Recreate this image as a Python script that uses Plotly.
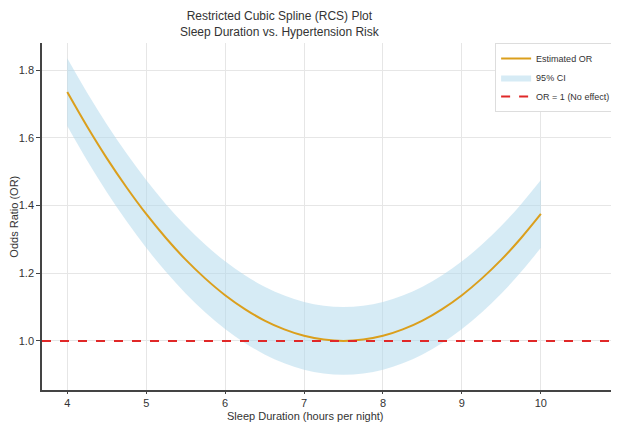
import plotly.graph_objects as go

sleep_hours = [4.0, 4.25, 4.5, 4.75, 5.0, 5.25, 5.5, 5.75, 6.0, 6.25, 6.5, 6.75, 7.0,
               7.25, 7.5, 7.75, 8.0, 8.25, 8.5, 8.75, 9.0, 9.25, 9.5, 9.75, 10.0]
estimated_or = [1.735, 1.634, 1.540, 1.454, 1.375, 1.304, 1.240, 1.184, 1.135, 1.094,
                1.060, 1.034, 1.015, 1.004, 1.000, 1.004, 1.015, 1.034, 1.060, 1.094,
                1.135, 1.184, 1.240, 1.304, 1.375]
ci_upper = [1.835, 1.734, 1.640, 1.554, 1.475, 1.404, 1.340, 1.284, 1.235, 1.194,
            1.160, 1.134, 1.115, 1.104, 1.100, 1.104, 1.115, 1.134, 1.160, 1.194,
            1.235, 1.284, 1.340, 1.404, 1.475]
ci_lower = [1.635, 1.534, 1.440, 1.354, 1.275, 1.204, 1.140, 1.084, 1.035, 0.994,
            0.960, 0.934, 0.915, 0.904, 0.900, 0.904, 0.915, 0.934, 0.960, 0.994,
            1.035, 1.084, 1.140, 1.204, 1.275]
x_ticks = [4, 5, 6, 7, 8, 9, 10]
y_ticks = [1.0, 1.2, 1.4, 1.6, 1.8]
reference_or = 1.0

FONT = "Liberation Sans"
X_RANGE = [3.68, 10.99]
fig = go.Figure()
fig.add_trace(go.Scatter(x=sleep_hours, y=ci_upper, mode="lines",
                         line=dict(width=0, shape="spline"),
                         showlegend=False, hoverinfo="skip"))
fig.add_trace(go.Scatter(x=sleep_hours, y=ci_lower, mode="lines",
                         line=dict(width=0, shape="spline"),
                         fill="tonexty", fillcolor="rgba(173,216,235,0.5)", name="95% CI",
                         legendrank=2))
fig.add_trace(go.Scatter(x=sleep_hours, y=estimated_or, mode="lines",
                         line=dict(color="#DB9F1C", width=2, shape="spline"),
                         name="Estimated OR", legendrank=1))
fig.add_trace(go.Scatter(x=X_RANGE, y=[reference_or, reference_or], mode="lines",
                         line=dict(color="#E02828", width=2, dash="dash"),
                         name="OR = 1 (No effect)", legendrank=3))

fig.update_layout(
    width=619, height=423,
    margin=dict(l=34, r=8, t=35, b=41),
    paper_bgcolor="white", plot_bgcolor="white",
    font=dict(family=FONT, size=11, color="#333"),
    legend=dict(x=0.995, y=1.0, xanchor="right", yanchor="top",
                bgcolor="white", bordercolor="#ddd", borderwidth=1,
                font=dict(size=9), tracegroupgap=0, traceorder="normal"),
    annotations=[
        dict(text="Restricted Cubic Spline (RCS) Plot<br>Sleep Duration vs. Hypertension Risk",
             xref="paper", yref="paper", x=0.4125, y=1.103, xanchor="center", yanchor="top",
             showarrow=False, font=dict(family=FONT, size=12, color="#333")),
        dict(text="Sleep Duration (hours per night)", xref="paper", yref="paper",
             x=0.4575, y=-0.075, xanchor="center", yanchor="middle", showarrow=False,
             font=dict(family=FONT, size=11, color="#333")),
        dict(text="Odds Ratio (OR)", xref="paper", yref="paper", textangle=-90,
             x=-0.050, y=0.5, xanchor="center", yanchor="middle", showarrow=False,
             font=dict(family=FONT, size=11, color="#333")),
    ],
)
fig.update_xaxes(range=X_RANGE, tickvals=x_ticks, showgrid=True, gridcolor="#e6e6e6",
                 showline=True, linecolor="#444", linewidth=1.5, ticks="outside",
                 ticklen=2, tickcolor="#444", zeroline=False)
fig.update_yaxes(range=[0.855, 1.88], tickvals=y_ticks, tickformat=".1f", showgrid=True,
                 gridcolor="#e6e6e6", showline=True, linecolor="#444", linewidth=1.5,
                 ticks="outside", ticklen=4, tickcolor="#444", zeroline=False)
fig.write_html("out.html")
